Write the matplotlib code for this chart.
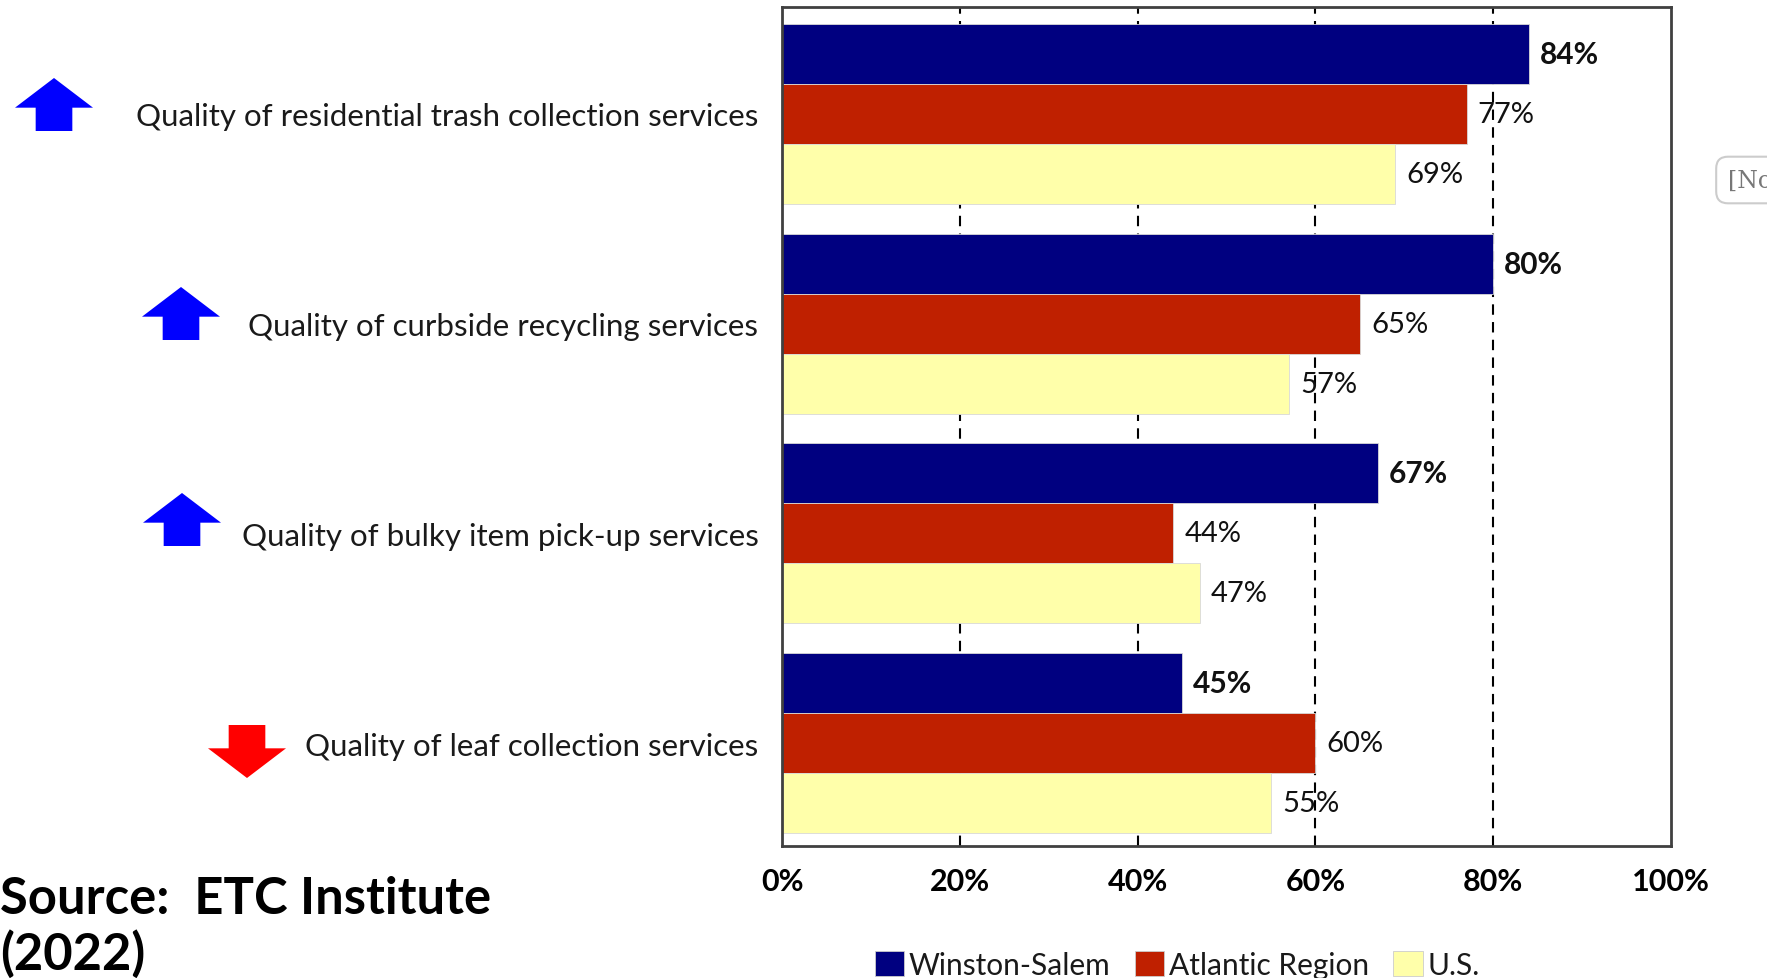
import matplotlib
matplotlib.use("Agg")
import matplotlib.pyplot as plt
from matplotlib.patches import Polygon, Patch
import numpy as np

plt.rcParams['font.family'] = ['Lato', 'DejaVu Sans']

categories = [
    "Quality of residential trash collection services",
    "Quality of curbside recycling services",
    "Quality of bulky item pick-up services",
    "Quality of leaf collection services",
]
series_names = ["Winston-Salem", "Atlantic Region", "U.S."]
winston_salem = [84, 80, 67, 45]
atlantic_region = [77, 65, 44, 60]
us = [69, 57, 47, 55]
trend = ["up", "up", "up", "down"]
xticks = [0, 20, 40, 60, 80, 100]
xtick_labels = ["0%", "20%", "40%", "60%", "80%", "100%"]

colors = ["#000080", "#BF2000", "#FFFFAA"]
W, H = 1767, 979
fig = plt.figure(figsize=(W / 100, H / 100), dpi=100)
ax = fig.add_axes([782 / W, (H - 847) / H, 889 / W, 839 / H])

centers = np.arange(len(categories))
bh = 0.286
series = [winston_salem, atlantic_region, us]
for k, (vals, col) in enumerate(zip(series, colors)):
    ypos = centers + (k - 1) * bh
    ax.barh(ypos, vals, height=bh, color=col, edgecolor="#d8d8d8", linewidth=0.6, zorder=2)
    for y, v in zip(ypos, vals):
        ax.annotate(f"{v}%", (v, y), xytext=(8, 0), textcoords="offset points",
                    va="center", ha="left", fontsize=21.5 if k == 0 else 21,
                    fontweight="bold" if k == 0 else "normal", color="#111111", zorder=4)

ax.set_xlim(0, 100)
ax.set_ylim(3.49, -0.51)
ax.set_xticks(xticks)
ax.set_xticklabels(xtick_labels, fontsize=22, fontweight="bold")
ax.set_yticks(centers)
ax.set_yticklabels(categories, fontsize=22.5, color="#1a1a1a")
ax.tick_params(axis="y", length=0, pad=17)
ax.tick_params(axis="x", length=0, pad=15)
for x in [20, 40, 60, 80]:
    ax.axvline(x, color="black", linestyle=(0, (5, 3.5)), linewidth=1.5, zorder=1)
for s in ax.spines.values():
    s.set_color("#404040")
    s.set_linewidth(2)

# trend arrows (figure pixel coordinates)
def arrow(x0, y0, w, h, up, color):
    hh = h * 0.56
    sw = w * 0.47
    xc = x0 + w / 2
    if up:
        pts = [(xc, y0), (x0 + w, y0 + hh), (xc + sw / 2, y0 + hh), (xc + sw / 2, y0 + h),
               (xc - sw / 2, y0 + h), (xc - sw / 2, y0 + hh), (x0, y0 + hh)]
    else:
        pts = [(xc - sw / 2, y0), (xc + sw / 2, y0), (xc + sw / 2, y0 + h - hh), (x0 + w, y0 + h - hh),
               (xc, y0 + h), (x0, y0 + h - hh), (xc - sw / 2, y0 + h - hh)]
    pts = [(px / W, 1 - py / H) for px, py in pts]
    fig.patches.append(Polygon(pts, closed=True, facecolor=color, edgecolor="none",
                               transform=fig.transFigure))

arrow_boxes = [(15, 79), (142, 288), (143, 494), (208, 726)]
for (x0, y0), t in zip(arrow_boxes, trend):
    arrow(x0, y0, 78, 53, t == "up", "#0000FF" if t == "up" else "#FF0000")

fig.text(0, 1 - 899 / H, "Source:  ETC Institute", fontsize=36.5, fontweight="bold",
         ha="left", va="center", color="black")
fig.text(0, 1 - 954 / H, "(2022)", fontsize=36.5, fontweight="bold",
         ha="left", va="center", color="black")

handles = [Patch(facecolor=c, edgecolor="#cccccc", linewidth=0.6) for c in colors]
leg = fig.legend(handles, series_names, loc="center", bbox_to_anchor=(1177 / W, 1 - 966 / H),
                 ncol=3, frameon=False, fontsize=21.5, handlelength=1.0, handleheight=0.9,
                 handletextpad=0.15, columnspacing=0.8, borderaxespad=0)
for t in leg.get_texts():
    t.set_color("#1a1a1a")

fig.text(1728 / W, 1 - 181 / H, "[No", fontsize=17, family="DejaVu Serif", color="#777777",
         ha="left", va="center",
         bbox=dict(boxstyle="round,pad=0.5", facecolor="white", edgecolor="#cccccc", linewidth=1.5))

fig.savefig("out.png", dpi=100)
